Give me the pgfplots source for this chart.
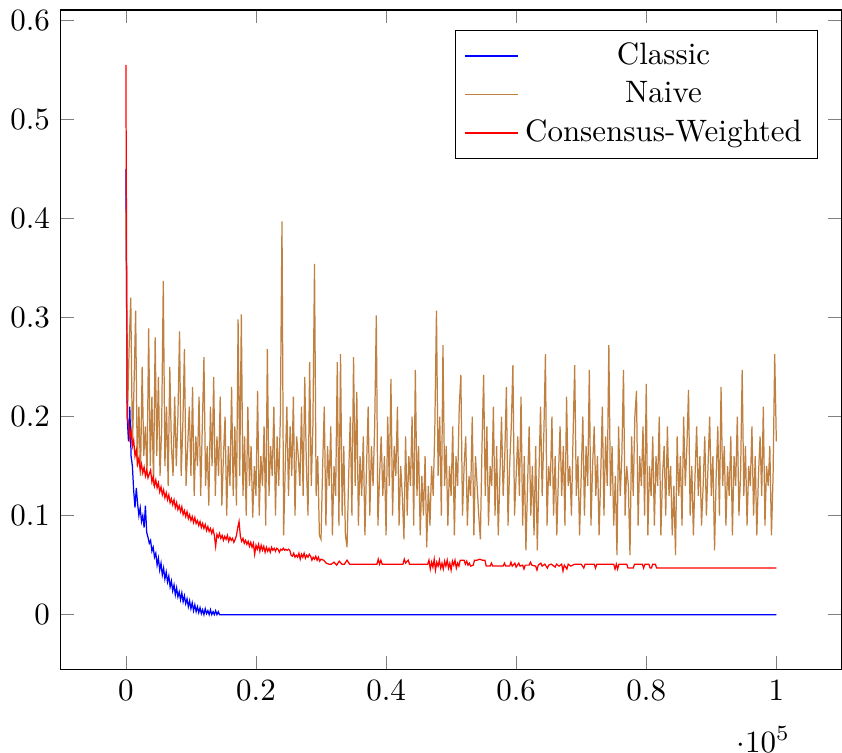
\documentclass[border=0pt]{standalone}
\usepackage{pgfplots}
\pgfplotsset{compat=1.18}
\begin{document}
\begin{tikzpicture}
\begin{axis}[
  scale only axis,
  width=252pt, height=213pt,
  xmin=-10000, xmax=110000,
  ymin=-0.0555, ymax=0.6105,
  ytick={0,0.1,0.2,0.3,0.4,0.5,0.6},
  legend pos=north east,
  legend cell align=center,
]
\addplot[blue, no markers] coordinates {
(0,0.45)(200,0.20)(400,0.175)(600,0.21)(800,0.16)(1000,0.15)(1200,0.125)(1400,0.108)(1600,0.128)(1800,0.112)
(2000,0.100)(2200,0.108)(2400,0.094)(2600,0.100)(2800,0.088)(3000,0.110)(3200,0.083)(3400,0.078)(3600,0.072)(3800,0.075)
(4000,0.064)(4200,0.068)(4400,0.058)(4600,0.062)(4800,0.050)(5000,0.057)(5200,0.045)(5400,0.052)(5600,0.040)(5800,0.047)
(6000,0.036)(6200,0.043)(6400,0.033)(6600,0.039)(6800,0.028)(7000,0.034)(7200,0.024)(7400,0.030)(7600,0.020)(7800,0.027)
(8000,0.018)(8200,0.023)(8400,0.015)(8600,0.022)(8800,0.013)(9000,0.019)(9200,0.011)(9400,0.016)(9600,0.008)(9800,0.014)
(10000,0.006)(10200,0.012)(10400,0.004)(10600,0.010)(10800,0.003)(11000,0.008)(11200,0.002)(11400,0.007)(11600,0.001)(11800,0.005)
(12000,0.000)(12200,0.006)(12400,0.001)(12600,0.004)(12800,0.000)(13000,0.005)(13200,0.000)(13400,0.003)(13600,0.000)(13800,0.004)
(14000,0.000)(14200,0.003)(14400,0.000)(100000,0.000)
};
\addlegendentry{Classic}
\addplot[brown, no markers] coordinates {
(0,0.41)(250,0.20)(500,0.27)(750,0.32)(1000,0.17)(1250,0.23)(1500,0.307)(1750,0.15)(2000,0.21)(2250,0.14)
(2500,0.25)(2750,0.16)(3000,0.19)(3250,0.14)(3500,0.289)(3750,0.15)(4000,0.22)(4250,0.13)(4500,0.28)(4750,0.16)
(5000,0.24)(5250,0.14)(5500,0.19)(5750,0.337)(6000,0.15)(6250,0.21)(6500,0.13)(6750,0.25)(7000,0.17)(7250,0.14)
(7500,0.22)(7750,0.15)(8000,0.20)(8250,0.286)(8500,0.14)(8750,0.19)(9000,0.268)(9250,0.13)(9500,0.17)(9750,0.21)
(10000,0.14)(10250,0.23)(10500,0.12)(10750,0.18)(11000,0.15)(11250,0.22)(11500,0.12)(11750,0.19)(12000,0.26)(12250,0.13)
(12500,0.17)(12750,0.11)(13000,0.21)(13250,0.15)(13500,0.24)(13750,0.12)(14000,0.18)(14250,0.14)(14500,0.22)(14750,0.11)
(15000,0.16)(15250,0.20)(15500,0.10)(15750,0.17)(16000,0.13)(16250,0.23)(16500,0.12)(16750,0.19)(17000,0.11)(17250,0.298)
(17500,0.14)(17750,0.303)(18000,0.12)(18250,0.18)(18500,0.10)(18750,0.21)(19000,0.13)(19250,0.17)(19500,0.098)(19750,0.15)
(20000,0.12)(20250,0.226)(20500,0.10)(20750,0.16)(21000,0.13)(21250,0.19)(21500,0.09)(21750,0.268)(22000,0.12)(22250,0.17)
(22500,0.14)(22750,0.21)(23000,0.10)(23250,0.18)(23500,0.13)(23750,0.20)(24000,0.397)(24250,0.08)(24500,0.15)(24750,0.21)
(25000,0.12)(25250,0.19)(25500,0.14)(25750,0.22)(26000,0.10)(26250,0.18)(26500,0.16)(26750,0.13)(27000,0.21)(27250,0.12)
(27500,0.24)(27750,0.15)(28000,0.10)(28250,0.255)(28500,0.13)(28750,0.19)(29000,0.354)(29250,0.12)(29500,0.16)(29750,0.08)
(30000,0.076)(30250,0.15)(30500,0.21)(30750,0.09)(31000,0.17)(31250,0.13)(31500,0.19)(31750,0.08)(32000,0.15)(32250,0.12)
(32500,0.255)(32750,0.09)(33000,0.263)(33250,0.10)(33500,0.17)(33750,0.08)(34000,0.068)(34250,0.14)(34500,0.20)(34750,0.10)
(35000,0.26)(35250,0.13)(35500,0.225)(35750,0.09)(36000,0.16)(36250,0.12)(36500,0.18)(36750,0.08)(37000,0.15)(37250,0.21)
(37500,0.10)(37750,0.17)(38000,0.13)(38250,0.19)(38500,0.302)(38750,0.09)(39000,0.14)(39250,0.18)(39500,0.12)(39750,0.16)
(40000,0.08)(40250,0.20)(40500,0.13)(40750,0.238)(41000,0.10)(41250,0.17)(41500,0.14)(41750,0.21)(42000,0.09)(42250,0.15)
(42500,0.12)(42750,0.076)(43000,0.18)(43250,0.10)(43500,0.16)(43750,0.13)(44000,0.20)(44250,0.09)(44500,0.247)(44750,0.12)
(45000,0.17)(45250,0.08)(45500,0.14)(45750,0.10)(46000,0.16)(46250,0.068)(46500,0.13)(46750,0.09)(47000,0.15)(47250,0.12)
(47500,0.19)(47750,0.307)(48000,0.14)(48250,0.20)(48500,0.10)(48750,0.272)(49000,0.13)(49250,0.17)(49500,0.09)(49750,0.15)
(50000,0.12)(50250,0.19)(50500,0.08)(50750,0.16)(51000,0.13)(51250,0.21)(51500,0.242)(51750,0.10)(52000,0.15)(52250,0.18)
(52500,0.09)(52750,0.14)(53000,0.12)(53250,0.20)(53500,0.08)(53750,0.16)(54000,0.13)(54250,0.10)(54500,0.076)(54750,0.17)
(55000,0.242)(55250,0.12)(55500,0.19)(55750,0.09)(56000,0.15)(56250,0.13)(56500,0.21)(56750,0.10)(57000,0.17)(57250,0.08)
(57500,0.14)(57750,0.20)(58000,0.12)(58250,0.16)(58500,0.23)(58750,0.09)(59000,0.15)(59250,0.19)(59500,0.252)(59750,0.10)
(60000,0.14)(60250,0.18)(60500,0.12)(60750,0.22)(61000,0.09)(61250,0.16)(61500,0.065)(61750,0.13)(62000,0.19)(62250,0.10)
(62500,0.15)(62750,0.08)(63000,0.17)(63250,0.065)(63500,0.14)(63750,0.21)(64000,0.12)(64250,0.18)(64500,0.263)(64750,0.09)
(65000,0.15)(65250,0.13)(65500,0.20)(65750,0.10)(66000,0.16)(66250,0.08)(66500,0.14)(66750,0.19)(67000,0.12)(67250,0.17)
(67500,0.09)(67750,0.22)(68000,0.13)(68250,0.15)(68500,0.10)(68750,0.18)(69000,0.252)(69250,0.12)(69500,0.16)(69750,0.08)
(70000,0.14)(70250,0.20)(70500,0.10)(70750,0.17)(71000,0.13)(71250,0.247)(71500,0.09)(71750,0.15)(72000,0.19)(72250,0.12)
(72500,0.16)(72750,0.08)(73000,0.14)(73250,0.21)(73500,0.10)(73750,0.18)(74000,0.13)(74250,0.272)(74500,0.12)(74750,0.17)
(75000,0.09)(75250,0.14)(75500,0.06)(75750,0.19)(76000,0.12)(76250,0.16)(76500,0.247)(76750,0.10)(77000,0.15)(77250,0.13)
(77500,0.06)(77750,0.18)(78000,0.12)(78250,0.20)(78500,0.226)(78750,0.09)(79000,0.16)(79250,0.13)(79500,0.19)(79750,0.10)
(80000,0.233)(80250,0.08)(80500,0.15)(80750,0.12)(81000,0.18)(81250,0.09)(81500,0.16)(81750,0.13)(82000,0.20)(82250,0.08)
(82500,0.14)(82750,0.17)(83000,0.10)(83250,0.19)(83500,0.12)(83750,0.15)(84000,0.08)(84250,0.13)(84500,0.06)(84750,0.18)
(85000,0.12)(85250,0.16)(85500,0.09)(85750,0.20)(86000,0.13)(86250,0.17)(86500,0.227)(86750,0.10)(87000,0.15)(87250,0.08)
(87500,0.14)(87750,0.19)(88000,0.12)(88250,0.16)(88500,0.09)(88750,0.13)(89000,0.18)(89250,0.10)(89500,0.15)(89750,0.20)
(90000,0.12)(90250,0.16)(90500,0.065)(90750,0.14)(91000,0.19)(91250,0.10)(91500,0.23)(91750,0.13)(92000,0.17)(92250,0.09)
(92500,0.15)(92750,0.12)(93000,0.18)(93250,0.08)(93500,0.16)(93750,0.13)(94000,0.20)(94250,0.10)(94500,0.14)(94750,0.247)
(95000,0.12)(95250,0.17)(95500,0.09)(95750,0.15)(96000,0.13)(96250,0.19)(96500,0.10)(96750,0.16)(97000,0.08)(97250,0.14)
(97500,0.18)(97750,0.12)(98000,0.21)(98250,0.09)(98500,0.15)(98750,0.13)(99000,0.17)(99250,0.08)(99500,0.14)(99750,0.263)
(100000,0.175)
};
\addlegendentry{Naive}
\addplot[red, no markers] coordinates {
(0,0.555)(200,0.200)(400,0.192)(600,0.178)(800,0.186)(1000,0.170)(1200,0.176)(1400,0.160)(1600,0.166)(1800,0.152)
(2000,0.158)(2200,0.146)(2400,0.152)(2600,0.143)(2800,0.149)(3000,0.140)(3200,0.146)(3400,0.138)(3600,0.142)(3800,0.146)
(4000,0.134)(4200,0.139)(4400,0.130)(4600,0.136)(4800,0.128)(5000,0.133)(5200,0.124)(5400,0.129)(5600,0.121)(5800,0.126)
(6000,0.118)(6200,0.123)(6400,0.116)(6600,0.121)(6800,0.113)(7000,0.117)(7200,0.111)(7400,0.116)(7600,0.108)(7800,0.113)
(8000,0.106)(8200,0.110)(8400,0.104)(8600,0.109)(8800,0.101)(9000,0.105)(9200,0.099)(9400,0.104)(9600,0.097)(9800,0.101)
(10000,0.095)(10200,0.099)(10400,0.093)(10600,0.098)(10800,0.092)(11000,0.095)(11200,0.090)(11400,0.094)(11600,0.088)(11800,0.092)
(12000,0.087)(12200,0.091)(12400,0.085)(12600,0.089)(12800,0.084)(13000,0.087)(13200,0.082)(13400,0.086)(13600,0.080)(13800,0.069)
(14000,0.081)(14200,0.078)(14400,0.082)(14600,0.077)(14800,0.080)(15000,0.075)(15200,0.079)(15400,0.076)(15600,0.080)(15800,0.074)
(16000,0.078)(16200,0.075)(16400,0.077)(16600,0.073)(16800,0.076)(17000,0.080)(17200,0.088)(17400,0.094)(17600,0.079)(17800,0.074)
(18000,0.077)(18200,0.072)(18400,0.075)(18600,0.071)(18800,0.074)(19000,0.069)(19200,0.073)(19400,0.068)(19600,0.072)(19800,0.061)
(20000,0.070)(20200,0.066)(20400,0.071)(20600,0.064)(20800,0.070)(21000,0.065)(21200,0.069)(21400,0.063)(21600,0.068)(21800,0.064)
(22000,0.067)(22200,0.063)(22400,0.068)(22600,0.065)(22800,0.067)(23000,0.064)(23200,0.067)(23400,0.066)(23600,0.063)(23800,0.066)
(24000,0.065)(24200,0.067)(24400,0.065)(24600,0.066)(24800,0.065)(25000,0.066)(25200,0.065)(25400,0.060)(25600,0.059)(25800,0.062)
(26000,0.058)(26200,0.060)(26400,0.058)(26600,0.062)(26800,0.056)(27000,0.061)(27200,0.058)(27400,0.062)(27600,0.057)(27800,0.060)
(28000,0.058)(28200,0.061)(28400,0.059)(28600,0.055)(28800,0.058)(29000,0.056)(29200,0.059)(29400,0.055)(29600,0.058)(29800,0.054)
(30000,0.056)(30400,0.055)(30800,0.052)(31200,0.051)(31600,0.051)(32000,0.053)(32400,0.050)(32800,0.054)(33200,0.051)(33600,0.051)
(34000,0.055)(34400,0.051)(35000,0.051)(38600,0.051)(38800,0.056)(39000,0.051)(39200,0.055)(39400,0.051)(42600,0.051)(42800,0.056)
(43000,0.052)(43400,0.055)(43600,0.051)(46400,0.051)(46600,0.055)(46800,0.046)(47000,0.053)(47200,0.048)(47400,0.056)(47600,0.045)
(47800,0.053)(48000,0.049)(48200,0.055)(48400,0.047)(48600,0.052)(48800,0.046)(49000,0.054)(49200,0.049)(49400,0.055)(49600,0.047)
(49800,0.052)(50000,0.045)(50200,0.054)(50400,0.050)(50600,0.055)(50800,0.047)(51000,0.052)(51200,0.049)(51400,0.055)(51600,0.055)
(52000,0.055)(52200,0.051)(52400,0.054)(52600,0.050)(52800,0.052)(53000,0.049)(53400,0.050)(53600,0.055)(54000,0.055)(54400,0.056)
(54800,0.055)(55200,0.055)(55400,0.049)(56000,0.049)(56200,0.052)(56400,0.049)(58000,0.049)(58200,0.052)(58400,0.049)(59000,0.049)
(59200,0.053)(59400,0.049)(59800,0.052)(60000,0.048)(60400,0.052)(60600,0.049)(61000,0.050)(61200,0.046)(61400,0.050)(62000,0.050)
(62200,0.053)(62400,0.050)(63000,0.049)(63200,0.045)(63400,0.050)(63800,0.052)(64000,0.049)(64400,0.051)(64800,0.047)(65000,0.050)
(65400,0.051)(66000,0.048)(66200,0.051)(66600,0.049)(67000,0.051)(67200,0.044)(67400,0.050)(67800,0.046)(68000,0.051)(68400,0.049)
(69000,0.051)(70000,0.051)(70400,0.047)(70600,0.051)(72000,0.051)(72200,0.047)(72400,0.051)(75000,0.051)(75200,0.046)(75400,0.051)
(75600,0.046)(75800,0.051)(77000,0.051)(77200,0.047)(78000,0.047)(78200,0.051)(79400,0.051)(79600,0.047)(79800,0.051)(80400,0.051)
(80600,0.047)(80800,0.047)(81000,0.051)(81400,0.051)(81600,0.047)(100000,0.047)
};
\addlegendentry{Consensus-Weighted}
\end{axis}
\end{tikzpicture}
\end{document}
